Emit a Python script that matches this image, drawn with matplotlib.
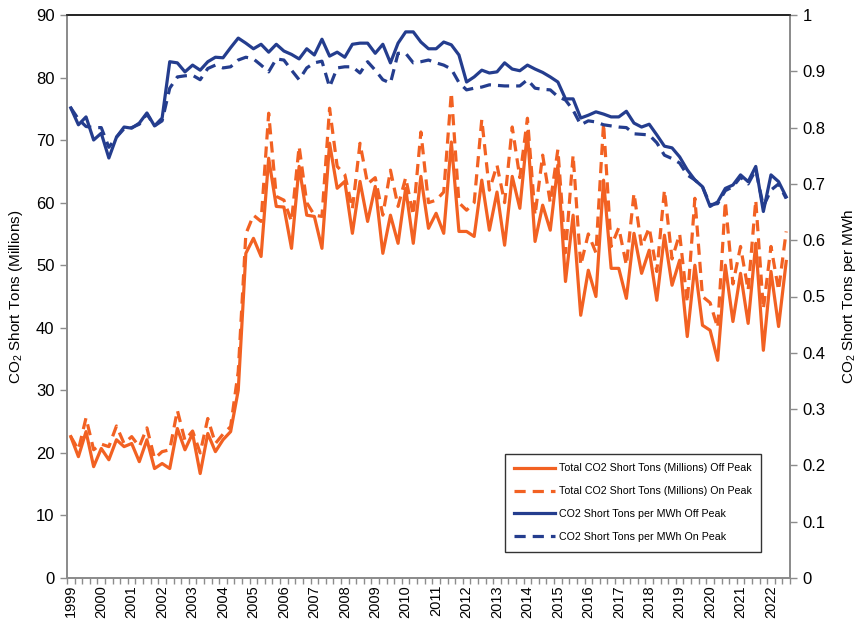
import matplotlib
matplotlib.use("Agg")
import matplotlib.pyplot as plt
import numpy as np

plt.rcParams['font.family'] = ['Liberation Sans', 'DejaVu Sans']
plt.rcParams['mathtext.default'] = 'regular'

year_labels = [str(y) for y in range(1999, 2023)]

# Quarterly data 1999Q1 .. 2022Q3 (95 quarters)
tons_off_peak = [
    22.6, 19.4, 23.4, 17.8, 20.7, 18.9, 22.1, 21.0, 21.5, 18.6,
    22.1, 17.5, 18.3, 17.5, 23.9, 20.5, 23.1, 16.7, 23.1, 20.2,
    22.1, 23.4, 30.0, 51.9, 54.3, 51.4, 67.1, 59.4, 59.3, 52.7,
    65.8, 58.0, 57.8, 52.7, 69.5, 62.3, 63.4, 55.1, 63.4, 57.0,
    62.6, 51.9, 58.0, 53.5, 62.3, 53.5, 64.2, 55.9, 58.3, 55.1,
    69.7, 55.4, 55.4, 54.6, 63.6, 55.6, 61.7, 53.2, 64.2, 59.1,
    71.3, 53.8, 59.6, 55.6, 66.0, 47.4, 58.0, 42.0, 49.2, 45.0,
    63.6, 49.5, 49.5, 44.7, 55.1, 48.7, 52.4, 44.4, 54.8, 46.8,
    50.8, 38.6, 50.0, 40.4, 39.6, 34.8, 50.0, 41.0, 48.7, 40.7,
    53.5, 36.4, 49.0, 40.2, 50.6,
]
tons_on_peak = [
    22.6, 20.5, 25.6, 20.5, 21.4, 21.0, 24.3, 21.5, 22.6, 21.0,
    24.0, 19.1, 20.2, 20.5, 26.8, 22.0, 23.5, 20.0, 25.5, 21.5,
    23.0, 24.2, 33.0, 55.0, 58.0, 57.0, 74.3, 61.0, 60.4, 57.0,
    69.0, 60.0, 58.0, 57.8, 75.1, 65.8, 64.5, 59.0, 69.5, 63.0,
    64.0, 58.0, 65.2, 59.4, 64.0, 58.0, 71.3, 60.0, 60.4, 61.7,
    77.6, 60.0, 58.8, 60.0, 73.3, 62.0, 66.0, 60.0, 72.1, 64.0,
    73.5, 58.0, 67.6, 60.0, 68.5, 52.0, 67.6, 50.0, 55.0, 52.0,
    72.7, 53.0, 56.0, 50.0, 61.5, 53.0, 56.0, 49.0, 62.0, 51.0,
    55.0, 44.0, 60.7, 45.0, 44.0, 40.0, 60.2, 47.0, 53.0, 46.0,
    60.4, 43.0, 53.0, 46.0, 55.4,
]
mwh_off_peak = [
    0.835, 0.805, 0.819, 0.778, 0.790, 0.746, 0.783, 0.801, 0.799, 0.808,
    0.826, 0.803, 0.817, 0.917, 0.915, 0.899, 0.911, 0.902, 0.917, 0.925,
    0.924, 0.942, 0.959, 0.950, 0.940, 0.948, 0.934, 0.948, 0.936, 0.930,
    0.922, 0.940, 0.929, 0.957, 0.927, 0.934, 0.925, 0.948, 0.950, 0.950,
    0.932, 0.948, 0.915, 0.950, 0.970, 0.970, 0.952, 0.940, 0.940, 0.952,
    0.947, 0.929, 0.881, 0.890, 0.902, 0.897, 0.899, 0.915, 0.904, 0.901,
    0.911, 0.904, 0.898, 0.890, 0.881, 0.851, 0.851, 0.817, 0.822, 0.828,
    0.824, 0.819, 0.819, 0.829, 0.808, 0.801, 0.806, 0.787, 0.767, 0.764,
    0.748, 0.725, 0.707, 0.695, 0.660, 0.668, 0.692, 0.698, 0.716, 0.704,
    0.731, 0.651, 0.716, 0.704, 0.677,
]
mwh_on_peak = [
    0.835, 0.815, 0.802, 0.800, 0.800, 0.765, 0.783, 0.798, 0.800, 0.806,
    0.824, 0.803, 0.812, 0.870, 0.890, 0.892, 0.893, 0.885, 0.905, 0.911,
    0.906, 0.908, 0.920, 0.925, 0.922, 0.911, 0.899, 0.922, 0.920, 0.902,
    0.885, 0.906, 0.915, 0.918, 0.872, 0.906, 0.908, 0.908, 0.897, 0.917,
    0.902, 0.885, 0.879, 0.932, 0.932, 0.915, 0.917, 0.920, 0.915, 0.911,
    0.904, 0.880, 0.867, 0.870, 0.872, 0.876, 0.875, 0.874, 0.874, 0.874,
    0.885, 0.870, 0.868, 0.867, 0.855, 0.849, 0.831, 0.805, 0.812, 0.810,
    0.805, 0.803, 0.801, 0.800, 0.789, 0.788, 0.787, 0.773, 0.751, 0.745,
    0.737, 0.716, 0.707, 0.695, 0.663, 0.665, 0.688, 0.695, 0.712, 0.700,
    0.725, 0.660, 0.689, 0.700, 0.674,
]

ORANGE = '#F26122'
BLUE = '#243D8E'
GRAY = '#8C8C8C'

n = len(tons_off_peak)
x = np.arange(n)

fig = plt.figure(figsize=(8.57, 6.24), dpi=100)
ax1 = fig.add_axes([67/857, 46/624, 723/857, 563/624])
ax2 = ax1.twinx()

lw = 2.3
dash = (3.5, 2.2)
l1, = ax1.plot(x, tons_off_peak, color=ORANGE, lw=lw, solid_joinstyle='round',
               label='Total CO2 Short Tons (Millions) Off Peak')
l2, = ax1.plot(x, tons_on_peak, color=ORANGE, lw=lw, dashes=dash,
               label='Total CO2 Short Tons (Millions) On Peak')
l3, = ax2.plot(x, mwh_off_peak, color=BLUE, lw=lw, solid_joinstyle='round',
               label='CO2 Short Tons per MWh Off Peak')
l4, = ax2.plot(x, mwh_on_peak, color=BLUE, lw=lw, dashes=dash,
               label='CO2 Short Tons per MWh On Peak')

ax1.set_xlim(-0.5, n - 0.5)
ax1.set_ylim(0, 90)
ax2.set_ylim(0, 1)
ax1.set_yticks(np.arange(0, 91, 10))
ax2.set_yticks(np.arange(0, 1.01, 0.1))
ax2.set_yticklabels(['0'] + ['%.1f' % v for v in np.arange(0.1, 0.95, 0.1)] + ['1'])

ax1.set_xticks(np.arange(0, n, 4))
ax1.set_xticklabels(year_labels, rotation=90, fontsize=10.5)
ax1.set_xticks(np.arange(-0.5, n, 1), minor=True)
ax1.tick_params(axis='x', which='major', length=0, pad=5)
ax1.tick_params(axis='x', which='minor', length=4, width=1, color=GRAY, direction='out')
ax1.tick_params(axis='y', which='major', length=5, width=1, color=GRAY, labelsize=12, pad=4)
ax2.tick_params(axis='y', which='major', length=5, width=1, color=GRAY, labelsize=12, pad=4)

for ax in (ax1, ax2):
    for s in ('left', 'right', 'bottom'):
        ax.spines[s].set_color(GRAY)
        ax.spines[s].set_linewidth(1.3)
    ax.spines['top'].set_color('#222222')
    ax.spines['top'].set_linewidth(1.2)

ax1.set_ylabel('CO$_2$ Short Tons (Millions)', fontsize=11, labelpad=8)
ax2.set_ylabel('CO$_2$ Short Tons per MWh', fontsize=11, rotation=90, labelpad=10)

leg = ax2.legend(handles=[l1, l2, l3, l4], loc='lower right',
                 bbox_to_anchor=(0.96, 0.047), fontsize=7.7, frameon=True,
                 fancybox=False, edgecolor='black', handlelength=3.8,
                 handletextpad=0.35, labelspacing=1.2, borderpad=0.9,
                 borderaxespad=0)
leg.get_frame().set_linewidth(1.0)

fig.savefig('out.png', dpi=100)
